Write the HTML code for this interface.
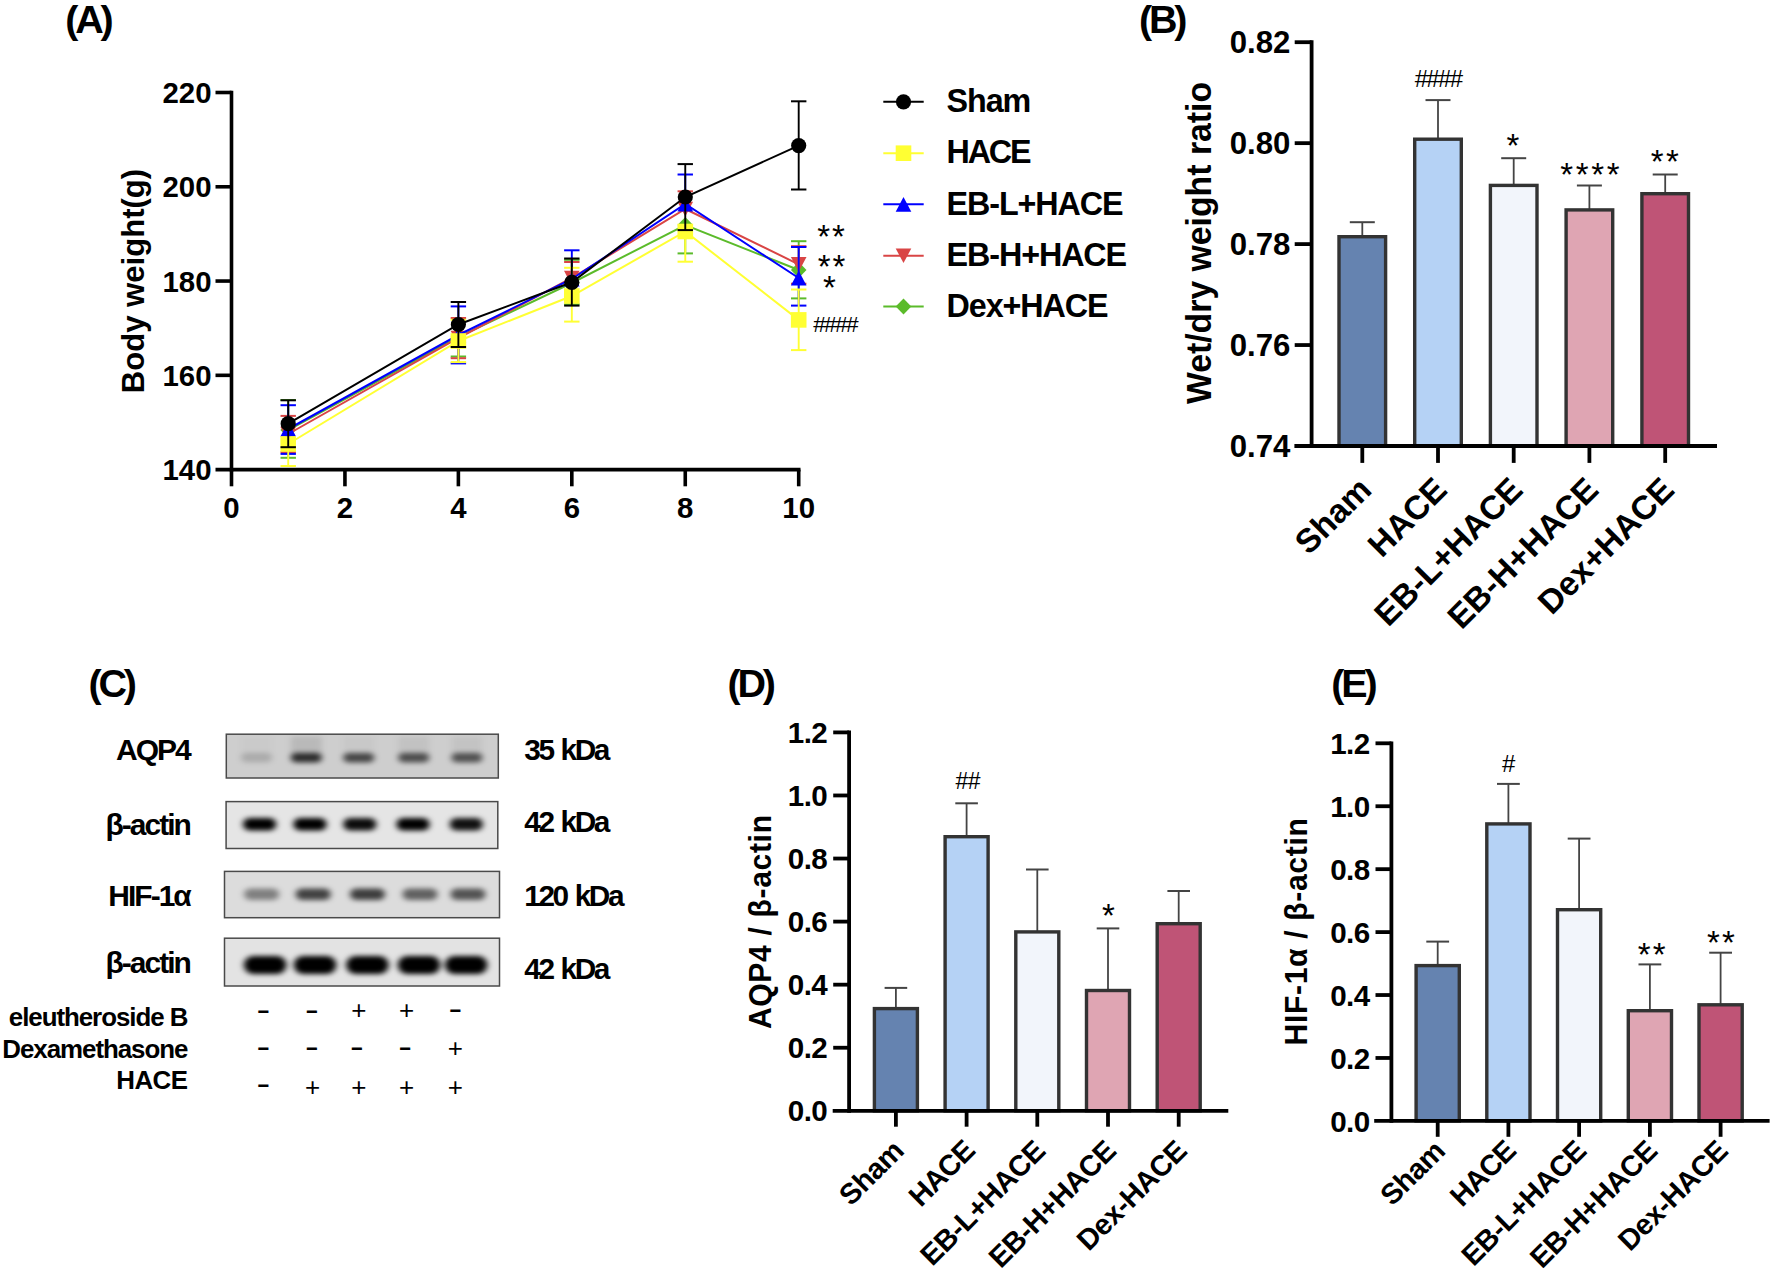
<!DOCTYPE html>
<html lang="en"><head><meta charset="utf-8"><title>Figure</title>
<style>html,body{margin:0;padding:0;background:#fff;}body{width:1772px;height:1273px;overflow:hidden;}svg{display:block;font-family:'Liberation Sans', Arial, sans-serif;}</style></head><body>
<svg width="1772" height="1273" viewBox="0 0 1772 1273">
<defs>
<filter id="bl0" x="-10%" y="-100%" width="120%" height="300%"><feGaussianBlur stdDeviation="3.4 2.72"/></filter>
<clipPath id="cp0"><rect x="226.3" y="734.2" width="272.0" height="43.8"/></clipPath>
<filter id="bl1" x="-10%" y="-100%" width="120%" height="300%"><feGaussianBlur stdDeviation="3.0 2.4000000000000004"/></filter>
<clipPath id="cp1"><rect x="226.1" y="801.6" width="271.7" height="46.9"/></clipPath>
<filter id="bl2" x="-10%" y="-100%" width="120%" height="300%"><feGaussianBlur stdDeviation="3.2 2.5600000000000005"/></filter>
<clipPath id="cp2"><rect x="224.5" y="871.4" width="275.0" height="46.3"/></clipPath>
<filter id="bl3" x="-10%" y="-100%" width="120%" height="300%"><feGaussianBlur stdDeviation="3.0 2.4000000000000004"/></filter>
<clipPath id="cp3"><rect x="224.5" y="938.2" width="275" height="47.8"/></clipPath>
</defs>
<rect width="1772" height="1273" fill="#fff"/>
<g id="panelA">
<line x1="231.5" y1="90.7" x2="231.5" y2="471.40000000000003" stroke="#000" stroke-width="3.6" stroke-linecap="butt"/>
<line x1="215.5" y1="469.6" x2="800.5" y2="469.6" stroke="#000" stroke-width="3.6" stroke-linecap="butt"/>
<text transform="translate(211.5 480.20000000000005) scale(0.99 1)" font-size="29.7" font-weight="bold" text-anchor="end" fill="#000">140</text>
<line x1="215.5" y1="375.32500000000005" x2="231.5" y2="375.32500000000005" stroke="#000" stroke-width="3.6" stroke-linecap="butt"/>
<text transform="translate(211.5 385.92500000000007) scale(0.99 1)" font-size="29.7" font-weight="bold" text-anchor="end" fill="#000">160</text>
<line x1="215.5" y1="281.05" x2="231.5" y2="281.05" stroke="#000" stroke-width="3.6" stroke-linecap="butt"/>
<text transform="translate(211.5 291.65000000000003) scale(0.99 1)" font-size="29.7" font-weight="bold" text-anchor="end" fill="#000">180</text>
<line x1="215.5" y1="186.77500000000003" x2="231.5" y2="186.77500000000003" stroke="#000" stroke-width="3.6" stroke-linecap="butt"/>
<text transform="translate(211.5 197.37500000000003) scale(0.99 1)" font-size="29.7" font-weight="bold" text-anchor="end" fill="#000">200</text>
<line x1="215.5" y1="92.5" x2="231.5" y2="92.5" stroke="#000" stroke-width="3.6" stroke-linecap="butt"/>
<text transform="translate(211.5 103.1) scale(0.99 1)" font-size="29.7" font-weight="bold" text-anchor="end" fill="#000">220</text>
<line x1="231.5" y1="469.6" x2="231.5" y2="486.3" stroke="#000" stroke-width="3.6" stroke-linecap="butt"/>
<text transform="translate(231.5 518.1) scale(0.99 1)" font-size="29.7" font-weight="bold" text-anchor="middle" fill="#000">0</text>
<line x1="344.94" y1="469.6" x2="344.94" y2="486.3" stroke="#000" stroke-width="3.6" stroke-linecap="butt"/>
<text transform="translate(344.94 518.1) scale(0.99 1)" font-size="29.7" font-weight="bold" text-anchor="middle" fill="#000">2</text>
<line x1="458.38" y1="469.6" x2="458.38" y2="486.3" stroke="#000" stroke-width="3.6" stroke-linecap="butt"/>
<text transform="translate(458.38 518.1) scale(0.99 1)" font-size="29.7" font-weight="bold" text-anchor="middle" fill="#000">4</text>
<line x1="571.8199999999999" y1="469.6" x2="571.8199999999999" y2="486.3" stroke="#000" stroke-width="3.6" stroke-linecap="butt"/>
<text transform="translate(571.8199999999999 518.1) scale(0.99 1)" font-size="29.7" font-weight="bold" text-anchor="middle" fill="#000">6</text>
<line x1="685.26" y1="469.6" x2="685.26" y2="486.3" stroke="#000" stroke-width="3.6" stroke-linecap="butt"/>
<text transform="translate(685.26 518.1) scale(0.99 1)" font-size="29.7" font-weight="bold" text-anchor="middle" fill="#000">8</text>
<line x1="798.7" y1="469.6" x2="798.7" y2="486.3" stroke="#000" stroke-width="3.6" stroke-linecap="butt"/>
<text transform="translate(798.7 518.1) scale(0.99 1)" font-size="29.7" font-weight="bold" text-anchor="middle" fill="#000">10</text>
<text transform="translate(144 281) rotate(-90) scale(1.019 1)" font-size="30.5" font-weight="bold" text-anchor="middle" fill="#000">Body weight(g)</text>
<text transform="translate(65.2 33)" font-size="39.5" font-weight="bold" text-anchor="start" letter-spacing="-3.2" fill="#000">(A)</text>
<line x1="288.22" y1="430" x2="288.22" y2="400" stroke="#5BBB2A" stroke-width="1.9" stroke-linecap="butt"/>
<line x1="280.52000000000004" y1="400" x2="295.92" y2="400" stroke="#5BBB2A" stroke-width="2.0" stroke-linecap="butt"/>
<line x1="288.22" y1="430" x2="288.22" y2="457.8" stroke="#5BBB2A" stroke-width="1.9" stroke-linecap="butt"/>
<line x1="280.52000000000004" y1="457.8" x2="295.92" y2="457.8" stroke="#5BBB2A" stroke-width="2.0" stroke-linecap="butt"/>
<line x1="458.38" y1="337" x2="458.38" y2="356.5" stroke="#5BBB2A" stroke-width="1.9" stroke-linecap="butt"/>
<line x1="450.68" y1="356.5" x2="466.08" y2="356.5" stroke="#5BBB2A" stroke-width="2.0" stroke-linecap="butt"/>
<line x1="571.8199999999999" y1="283" x2="571.8199999999999" y2="259.8" stroke="#5BBB2A" stroke-width="1.9" stroke-linecap="butt"/>
<line x1="564.1199999999999" y1="259.8" x2="579.52" y2="259.8" stroke="#5BBB2A" stroke-width="2.0" stroke-linecap="butt"/>
<line x1="571.8199999999999" y1="283" x2="571.8199999999999" y2="304.3" stroke="#5BBB2A" stroke-width="1.9" stroke-linecap="butt"/>
<line x1="564.1199999999999" y1="304.3" x2="579.52" y2="304.3" stroke="#5BBB2A" stroke-width="2.0" stroke-linecap="butt"/>
<line x1="685.26" y1="225" x2="685.26" y2="253.4" stroke="#5BBB2A" stroke-width="1.9" stroke-linecap="butt"/>
<line x1="677.56" y1="253.4" x2="692.96" y2="253.4" stroke="#5BBB2A" stroke-width="2.0" stroke-linecap="butt"/>
<line x1="798.7" y1="270" x2="798.7" y2="241.2" stroke="#5BBB2A" stroke-width="1.9" stroke-linecap="butt"/>
<line x1="791.0" y1="241.2" x2="806.4000000000001" y2="241.2" stroke="#5BBB2A" stroke-width="2.0" stroke-linecap="butt"/>
<line x1="798.7" y1="270" x2="798.7" y2="298.4" stroke="#5BBB2A" stroke-width="1.9" stroke-linecap="butt"/>
<line x1="791.0" y1="298.4" x2="806.4000000000001" y2="298.4" stroke="#5BBB2A" stroke-width="2.0" stroke-linecap="butt"/>
<polyline points="288.2,430.0 458.4,337.0 571.8,283.0 685.3,225.0 798.7,270.0" fill="none" stroke="#5BBB2A" stroke-width="2.0"/>
<polygon points="288.2,422.0 296.0,430.0 288.2,438.0 280.4,430.0" fill="#5BBB2A"/>
<polygon points="458.4,329.0 466.2,337.0 458.4,345.0 450.6,337.0" fill="#5BBB2A"/>
<polygon points="571.8,275.0 579.6,283.0 571.8,291.0 564.0,283.0" fill="#5BBB2A"/>
<polygon points="685.3,217.0 693.1,225.0 685.3,233.0 677.5,225.0" fill="#5BBB2A"/>
<polygon points="798.7,262.0 806.5,270.0 798.7,278.0 790.9,270.0" fill="#5BBB2A"/>
<line x1="288.22" y1="434" x2="288.22" y2="415.9" stroke="#D94545" stroke-width="1.9" stroke-linecap="butt"/>
<line x1="280.52000000000004" y1="415.9" x2="295.92" y2="415.9" stroke="#D94545" stroke-width="2.0" stroke-linecap="butt"/>
<line x1="288.22" y1="434" x2="288.22" y2="452.2" stroke="#D94545" stroke-width="1.9" stroke-linecap="butt"/>
<line x1="280.52000000000004" y1="452.2" x2="295.92" y2="452.2" stroke="#D94545" stroke-width="2.0" stroke-linecap="butt"/>
<line x1="458.38" y1="338" x2="458.38" y2="318" stroke="#D94545" stroke-width="1.9" stroke-linecap="butt"/>
<line x1="450.68" y1="318" x2="466.08" y2="318" stroke="#D94545" stroke-width="2.0" stroke-linecap="butt"/>
<line x1="458.38" y1="338" x2="458.38" y2="358.2" stroke="#D94545" stroke-width="1.9" stroke-linecap="butt"/>
<line x1="450.68" y1="358.2" x2="466.08" y2="358.2" stroke="#D94545" stroke-width="2.0" stroke-linecap="butt"/>
<line x1="571.8199999999999" y1="278" x2="571.8199999999999" y2="262" stroke="#D94545" stroke-width="1.9" stroke-linecap="butt"/>
<line x1="564.1199999999999" y1="262" x2="579.52" y2="262" stroke="#D94545" stroke-width="2.0" stroke-linecap="butt"/>
<line x1="685.26" y1="209" x2="685.26" y2="191.3" stroke="#D94545" stroke-width="1.9" stroke-linecap="butt"/>
<line x1="677.56" y1="191.3" x2="692.96" y2="191.3" stroke="#D94545" stroke-width="2.0" stroke-linecap="butt"/>
<line x1="798.7" y1="264.3" x2="798.7" y2="246.2" stroke="#D94545" stroke-width="1.9" stroke-linecap="butt"/>
<line x1="791.0" y1="246.2" x2="806.4000000000001" y2="246.2" stroke="#D94545" stroke-width="2.0" stroke-linecap="butt"/>
<line x1="798.7" y1="264.3" x2="798.7" y2="283.7" stroke="#D94545" stroke-width="1.9" stroke-linecap="butt"/>
<line x1="791.0" y1="283.7" x2="806.4000000000001" y2="283.7" stroke="#D94545" stroke-width="2.0" stroke-linecap="butt"/>
<polyline points="288.2,434.0 458.4,338.0 571.8,278.0 685.3,209.0 798.7,264.3" fill="none" stroke="#D94545" stroke-width="2.0"/>
<polygon points="288.2,441.4 296.0,426.8 280.4,426.8" fill="#D94545"/>
<polygon points="458.4,345.4 466.2,330.8 450.6,330.8" fill="#D94545"/>
<polygon points="571.8,285.4 579.6,270.8 564.0,270.8" fill="#D94545"/>
<polygon points="685.3,216.4 693.1,201.8 677.5,201.8" fill="#D94545"/>
<polygon points="798.7,271.7 806.5,257.1 790.9,257.1" fill="#D94545"/>
<line x1="288.22" y1="429" x2="288.22" y2="405.2" stroke="#0000FF" stroke-width="1.9" stroke-linecap="butt"/>
<line x1="280.52000000000004" y1="405.2" x2="295.92" y2="405.2" stroke="#0000FF" stroke-width="2.0" stroke-linecap="butt"/>
<line x1="288.22" y1="429" x2="288.22" y2="453.9" stroke="#0000FF" stroke-width="1.9" stroke-linecap="butt"/>
<line x1="280.52000000000004" y1="453.9" x2="295.92" y2="453.9" stroke="#0000FF" stroke-width="2.0" stroke-linecap="butt"/>
<line x1="458.38" y1="335" x2="458.38" y2="306.4" stroke="#0000FF" stroke-width="1.9" stroke-linecap="butt"/>
<line x1="450.68" y1="306.4" x2="466.08" y2="306.4" stroke="#0000FF" stroke-width="2.0" stroke-linecap="butt"/>
<line x1="458.38" y1="335" x2="458.38" y2="363.4" stroke="#0000FF" stroke-width="1.9" stroke-linecap="butt"/>
<line x1="450.68" y1="363.4" x2="466.08" y2="363.4" stroke="#0000FF" stroke-width="2.0" stroke-linecap="butt"/>
<line x1="571.8199999999999" y1="279" x2="571.8199999999999" y2="250.3" stroke="#0000FF" stroke-width="1.9" stroke-linecap="butt"/>
<line x1="564.1199999999999" y1="250.3" x2="579.52" y2="250.3" stroke="#0000FF" stroke-width="2.0" stroke-linecap="butt"/>
<line x1="685.26" y1="204" x2="685.26" y2="174.5" stroke="#0000FF" stroke-width="1.9" stroke-linecap="butt"/>
<line x1="677.56" y1="174.5" x2="692.96" y2="174.5" stroke="#0000FF" stroke-width="2.0" stroke-linecap="butt"/>
<line x1="798.7" y1="278" x2="798.7" y2="247" stroke="#0000FF" stroke-width="1.9" stroke-linecap="butt"/>
<line x1="791.0" y1="247" x2="806.4000000000001" y2="247" stroke="#0000FF" stroke-width="2.0" stroke-linecap="butt"/>
<line x1="798.7" y1="278" x2="798.7" y2="305.6" stroke="#0000FF" stroke-width="1.9" stroke-linecap="butt"/>
<line x1="791.0" y1="305.6" x2="806.4000000000001" y2="305.6" stroke="#0000FF" stroke-width="2.0" stroke-linecap="butt"/>
<polyline points="288.2,429.0 458.4,335.0 571.8,279.0 685.3,204.0 798.7,278.0" fill="none" stroke="#0000FF" stroke-width="2.0"/>
<polygon points="288.2,421.7 296.0,436.4 280.4,436.4" fill="#0000FF"/>
<polygon points="458.4,327.7 466.2,342.4 450.6,342.4" fill="#0000FF"/>
<polygon points="571.8,271.7 579.6,286.4 564.0,286.4" fill="#0000FF"/>
<polygon points="685.3,196.7 693.1,211.4 677.5,211.4" fill="#0000FF"/>
<polygon points="798.7,270.7 806.5,285.4 790.9,285.4" fill="#0000FF"/>
<line x1="288.22" y1="444" x2="288.22" y2="466" stroke="#FFFF33" stroke-width="1.9" stroke-linecap="butt"/>
<line x1="280.52000000000004" y1="466" x2="295.92" y2="466" stroke="#FFFF33" stroke-width="2.0" stroke-linecap="butt"/>
<line x1="458.38" y1="341" x2="458.38" y2="319.8" stroke="#FFFF33" stroke-width="1.9" stroke-linecap="butt"/>
<line x1="450.68" y1="319.8" x2="466.08" y2="319.8" stroke="#FFFF33" stroke-width="2.0" stroke-linecap="butt"/>
<line x1="458.38" y1="341" x2="458.38" y2="362.1" stroke="#FFFF33" stroke-width="1.9" stroke-linecap="butt"/>
<line x1="450.68" y1="362.1" x2="466.08" y2="362.1" stroke="#FFFF33" stroke-width="2.0" stroke-linecap="butt"/>
<line x1="571.8199999999999" y1="296" x2="571.8199999999999" y2="267.8" stroke="#FFFF33" stroke-width="1.9" stroke-linecap="butt"/>
<line x1="564.1199999999999" y1="267.8" x2="579.52" y2="267.8" stroke="#FFFF33" stroke-width="2.0" stroke-linecap="butt"/>
<line x1="571.8199999999999" y1="296" x2="571.8199999999999" y2="321.6" stroke="#FFFF33" stroke-width="1.9" stroke-linecap="butt"/>
<line x1="564.1199999999999" y1="321.6" x2="579.52" y2="321.6" stroke="#FFFF33" stroke-width="2.0" stroke-linecap="butt"/>
<line x1="685.26" y1="231.5" x2="685.26" y2="261.7" stroke="#FFFF33" stroke-width="1.9" stroke-linecap="butt"/>
<line x1="677.56" y1="261.7" x2="692.96" y2="261.7" stroke="#FFFF33" stroke-width="2.0" stroke-linecap="butt"/>
<line x1="798.7" y1="319.9" x2="798.7" y2="289.5" stroke="#FFFF33" stroke-width="1.9" stroke-linecap="butt"/>
<line x1="791.0" y1="289.5" x2="806.4000000000001" y2="289.5" stroke="#FFFF33" stroke-width="2.0" stroke-linecap="butt"/>
<line x1="798.7" y1="319.9" x2="798.7" y2="350.1" stroke="#FFFF33" stroke-width="1.9" stroke-linecap="butt"/>
<line x1="791.0" y1="350.1" x2="806.4000000000001" y2="350.1" stroke="#FFFF33" stroke-width="2.0" stroke-linecap="butt"/>
<polyline points="288.2,444.0 458.4,341.0 571.8,296.0 685.3,231.5 798.7,319.9" fill="none" stroke="#FFFF33" stroke-width="2.0"/>
<rect x="280.4" y="436.2" width="15.6" height="15.6" fill="#FFFF33"/>
<rect x="450.6" y="333.2" width="15.6" height="15.6" fill="#FFFF33"/>
<rect x="564.0" y="288.2" width="15.6" height="15.6" fill="#FFFF33"/>
<rect x="677.5" y="223.7" width="15.6" height="15.6" fill="#FFFF33"/>
<rect x="790.9" y="312.1" width="15.6" height="15.6" fill="#FFFF33"/>
<line x1="288.22" y1="423.7" x2="288.22" y2="400.3" stroke="#000000" stroke-width="1.9" stroke-linecap="butt"/>
<line x1="280.52000000000004" y1="400.3" x2="295.92" y2="400.3" stroke="#000000" stroke-width="2.0" stroke-linecap="butt"/>
<line x1="288.22" y1="423.7" x2="288.22" y2="447.2" stroke="#000000" stroke-width="1.9" stroke-linecap="butt"/>
<line x1="280.52000000000004" y1="447.2" x2="295.92" y2="447.2" stroke="#000000" stroke-width="2.0" stroke-linecap="butt"/>
<line x1="458.38" y1="324.5" x2="458.38" y2="302" stroke="#000000" stroke-width="1.9" stroke-linecap="butt"/>
<line x1="450.68" y1="302" x2="466.08" y2="302" stroke="#000000" stroke-width="2.0" stroke-linecap="butt"/>
<line x1="458.38" y1="324.5" x2="458.38" y2="347" stroke="#000000" stroke-width="1.9" stroke-linecap="butt"/>
<line x1="450.68" y1="347" x2="466.08" y2="347" stroke="#000000" stroke-width="2.0" stroke-linecap="butt"/>
<line x1="571.8199999999999" y1="282.3" x2="571.8199999999999" y2="258.5" stroke="#000000" stroke-width="1.9" stroke-linecap="butt"/>
<line x1="564.1199999999999" y1="258.5" x2="579.52" y2="258.5" stroke="#000000" stroke-width="2.0" stroke-linecap="butt"/>
<line x1="571.8199999999999" y1="282.3" x2="571.8199999999999" y2="305.6" stroke="#000000" stroke-width="1.9" stroke-linecap="butt"/>
<line x1="564.1199999999999" y1="305.6" x2="579.52" y2="305.6" stroke="#000000" stroke-width="2.0" stroke-linecap="butt"/>
<line x1="685.26" y1="197" x2="685.26" y2="164.1" stroke="#000000" stroke-width="1.9" stroke-linecap="butt"/>
<line x1="677.56" y1="164.1" x2="692.96" y2="164.1" stroke="#000000" stroke-width="2.0" stroke-linecap="butt"/>
<line x1="685.26" y1="197" x2="685.26" y2="230.1" stroke="#000000" stroke-width="1.9" stroke-linecap="butt"/>
<line x1="677.56" y1="230.1" x2="692.96" y2="230.1" stroke="#000000" stroke-width="2.0" stroke-linecap="butt"/>
<line x1="798.7" y1="145.6" x2="798.7" y2="101.3" stroke="#000000" stroke-width="1.9" stroke-linecap="butt"/>
<line x1="791.0" y1="101.3" x2="806.4000000000001" y2="101.3" stroke="#000000" stroke-width="2.0" stroke-linecap="butt"/>
<line x1="798.7" y1="145.6" x2="798.7" y2="189.5" stroke="#000000" stroke-width="1.9" stroke-linecap="butt"/>
<line x1="791.0" y1="189.5" x2="806.4000000000001" y2="189.5" stroke="#000000" stroke-width="2.0" stroke-linecap="butt"/>
<polyline points="288.2,423.7 458.4,324.5 571.8,282.3 685.3,197.0 798.7,145.6" fill="none" stroke="#000000" stroke-width="2.0"/>
<circle cx="288.2" cy="423.7" r="7.6" fill="#000000"/>
<circle cx="458.4" cy="324.5" r="7.6" fill="#000000"/>
<circle cx="571.8" cy="282.3" r="7.6" fill="#000000"/>
<circle cx="685.3" cy="197.0" r="7.6" fill="#000000"/>
<circle cx="798.7" cy="145.6" r="7.6" fill="#000000"/>
<line x1="883.3" y1="101.8" x2="923.7" y2="101.8" stroke="#000000" stroke-width="2" stroke-linecap="butt"/>
<circle cx="903.5" cy="101.8" r="7.6" fill="#000000"/>
<text transform="translate(946.6 112.4)" font-size="32.3" font-weight="bold" text-anchor="start" letter-spacing="-1.1" fill="#000">Sham</text>
<line x1="883.3" y1="153.2" x2="923.7" y2="153.2" stroke="#FFFF33" stroke-width="2" stroke-linecap="butt"/>
<rect x="895.7" y="145.4" width="15.6" height="15.6" fill="#FFFF33"/>
<text transform="translate(946.6 163.4)" font-size="32.3" font-weight="bold" text-anchor="start" letter-spacing="-2.2" fill="#000">HACE</text>
<line x1="883.3" y1="204.3" x2="923.7" y2="204.3" stroke="#0000FF" stroke-width="2" stroke-linecap="butt"/>
<polygon points="903.5,197.0 911.3,211.7 895.7,211.7" fill="#0000FF"/>
<text transform="translate(946.6 214.7)" font-size="32.3" font-weight="bold" text-anchor="start" letter-spacing="-1.1" fill="#000">EB-L+HACE</text>
<line x1="883.3" y1="255.7" x2="923.7" y2="255.7" stroke="#D94545" stroke-width="2" stroke-linecap="butt"/>
<polygon points="903.5,263.1 911.3,248.5 895.7,248.5" fill="#D94545"/>
<text transform="translate(946.6 265.6)" font-size="32.3" font-weight="bold" text-anchor="start" letter-spacing="-1.1" fill="#000">EB-H+HACE</text>
<line x1="883.3" y1="306.6" x2="923.7" y2="306.6" stroke="#5BBB2A" stroke-width="2" stroke-linecap="butt"/>
<polygon points="903.5,298.6 911.3,306.6 903.5,314.6 895.7,306.6" fill="#5BBB2A"/>
<text transform="translate(946.6 317.2)" font-size="32.3" font-weight="bold" text-anchor="start" letter-spacing="-1.1" fill="#000">Dex+HACE</text>
<text transform="translate(832 248)" font-size="33" font-weight="normal" text-anchor="middle" letter-spacing="2" fill="#000">**</text>
<text transform="translate(832.5 277.5)" font-size="33" font-weight="normal" text-anchor="middle" letter-spacing="2" fill="#000">**</text>
<text transform="translate(829.3 299.3)" font-size="33" font-weight="normal" text-anchor="middle" fill="#000">*</text>
<text transform="translate(813.2 331.6)" font-size="22.7" font-weight="normal" text-anchor="start" letter-spacing="-1.7" fill="#000">####</text>
</g>
<g id="panelB">
<line x1="1362.3" y1="236" x2="1362.3" y2="222.2" stroke="#444" stroke-width="1.8" stroke-linecap="butt"/>
<line x1="1349.8" y1="222.2" x2="1374.8" y2="222.2" stroke="#444" stroke-width="2.0" stroke-linecap="butt"/>
<rect x="1339.0" y="236.7" width="46.6" height="209.3" fill="#6583B0" stroke="#333333" stroke-width="3.4"/>
<line x1="1438.0" y1="138.5" x2="1438.0" y2="100.1" stroke="#444" stroke-width="1.8" stroke-linecap="butt"/>
<line x1="1425.5" y1="100.1" x2="1450.5" y2="100.1" stroke="#444" stroke-width="2.0" stroke-linecap="butt"/>
<rect x="1414.7" y="139.2" width="46.6" height="306.8" fill="#B5D2F5" stroke="#333333" stroke-width="3.4"/>
<line x1="1513.7" y1="184.7" x2="1513.7" y2="158.2" stroke="#444" stroke-width="1.8" stroke-linecap="butt"/>
<line x1="1501.2" y1="158.2" x2="1526.2" y2="158.2" stroke="#444" stroke-width="2.0" stroke-linecap="butt"/>
<rect x="1490.4" y="185.4" width="46.6" height="260.6" fill="#F2F5FB" stroke="#333333" stroke-width="3.4"/>
<line x1="1589.4" y1="209.2" x2="1589.4" y2="185.5" stroke="#444" stroke-width="1.8" stroke-linecap="butt"/>
<line x1="1576.9" y1="185.5" x2="1601.9" y2="185.5" stroke="#444" stroke-width="2.0" stroke-linecap="butt"/>
<rect x="1566.1" y="209.9" width="46.6" height="236.1" fill="#DFA5B3" stroke="#333333" stroke-width="3.4"/>
<line x1="1665.2" y1="193" x2="1665.2" y2="174.5" stroke="#444" stroke-width="1.8" stroke-linecap="butt"/>
<line x1="1652.7" y1="174.5" x2="1677.7" y2="174.5" stroke="#444" stroke-width="2.0" stroke-linecap="butt"/>
<rect x="1641.9" y="193.7" width="46.6" height="252.3" fill="#BF5476" stroke="#333333" stroke-width="3.4"/>
<line x1="1311.6" y1="40.300000000000004" x2="1311.6" y2="447.9" stroke="#000" stroke-width="3.8" stroke-linecap="butt"/>
<line x1="1294.4" y1="446.0" x2="1717" y2="446.0" stroke="#000" stroke-width="3.8" stroke-linecap="butt"/>
<text transform="translate(1290.3999999999999 457.0) scale(0.98 1)" font-size="31.8" font-weight="bold" text-anchor="end" fill="#000">0.74</text>
<line x1="1294.6999999999998" y1="345.05" x2="1311.6" y2="345.05" stroke="#000" stroke-width="3.8" stroke-linecap="butt"/>
<text transform="translate(1290.3999999999999 356.05) scale(0.98 1)" font-size="31.8" font-weight="bold" text-anchor="end" fill="#000">0.76</text>
<line x1="1294.6999999999998" y1="244.1" x2="1311.6" y2="244.1" stroke="#000" stroke-width="3.8" stroke-linecap="butt"/>
<text transform="translate(1290.3999999999999 255.1) scale(0.98 1)" font-size="31.8" font-weight="bold" text-anchor="end" fill="#000">0.78</text>
<line x1="1294.6999999999998" y1="143.14999999999998" x2="1311.6" y2="143.14999999999998" stroke="#000" stroke-width="3.8" stroke-linecap="butt"/>
<text transform="translate(1290.3999999999999 154.14999999999998) scale(0.98 1)" font-size="31.8" font-weight="bold" text-anchor="end" fill="#000">0.80</text>
<line x1="1294.6999999999998" y1="42.19999999999999" x2="1311.6" y2="42.19999999999999" stroke="#000" stroke-width="3.8" stroke-linecap="butt"/>
<text transform="translate(1290.3999999999999 53.19999999999999) scale(0.98 1)" font-size="31.8" font-weight="bold" text-anchor="end" fill="#000">0.82</text>
<line x1="1362.3" y1="446.0" x2="1362.3" y2="462.9" stroke="#000" stroke-width="3.8" stroke-linecap="butt"/>
<line x1="1438.0" y1="446.0" x2="1438.0" y2="462.9" stroke="#000" stroke-width="3.8" stroke-linecap="butt"/>
<line x1="1513.7" y1="446.0" x2="1513.7" y2="462.9" stroke="#000" stroke-width="3.8" stroke-linecap="butt"/>
<line x1="1589.4" y1="446.0" x2="1589.4" y2="462.9" stroke="#000" stroke-width="3.8" stroke-linecap="butt"/>
<line x1="1665.2" y1="446.0" x2="1665.2" y2="462.9" stroke="#000" stroke-width="3.8" stroke-linecap="butt"/>
<text transform="translate(1373.2 491.6) rotate(-45)" font-size="33.5" font-weight="bold" text-anchor="end" fill="#000">Sham</text>
<text transform="translate(1448.9 491.6) rotate(-45)" font-size="33.5" font-weight="bold" text-anchor="end" fill="#000">HACE</text>
<text transform="translate(1524.6000000000001 491.6) rotate(-45)" font-size="33.5" font-weight="bold" text-anchor="end" fill="#000">EB-L+HACE</text>
<text transform="translate(1600.3000000000002 491.6) rotate(-45)" font-size="33.5" font-weight="bold" text-anchor="end" fill="#000">EB-H+HACE</text>
<text transform="translate(1676.1000000000001 491.6) rotate(-45)" font-size="33.5" font-weight="bold" text-anchor="end" fill="#000">Dex+HACE</text>
<text transform="translate(1211 243) rotate(-90) scale(0.985 1)" font-size="34.3" font-weight="bold" text-anchor="middle" fill="#000">Wet/dry weight ratio</text>
<text transform="translate(1139 33)" font-size="39.5" font-weight="bold" text-anchor="start" letter-spacing="-3.2" fill="#000">(B)</text>
<text transform="translate(1438.0 87.3)" font-size="24" font-weight="normal" text-anchor="middle" letter-spacing="-1.7" fill="#000">####</text>
<text transform="translate(1513 156.5)" font-size="33" font-weight="normal" text-anchor="middle" fill="#000">*</text>
<text transform="translate(1591.3 185.5)" font-size="33" font-weight="normal" text-anchor="middle" letter-spacing="2.7" fill="#000">****</text>
<text transform="translate(1666 173)" font-size="33" font-weight="normal" text-anchor="middle" letter-spacing="2.4" fill="#000">**</text>
</g>
<g id="panelC">
<text transform="translate(88.5 696.5)" font-size="39.5" font-weight="bold" text-anchor="start" letter-spacing="-3.2" fill="#000">(C)</text>
<rect x="226.3" y="734.2" width="272.0" height="43.8" fill="#CECECE"/>
<g clip-path="url(#cp0)"><g filter="url(#bl0)">
<rect x="241.0" y="736.2" width="31" height="21.6" fill="#000" fill-opacity="0.02"/>
<rect x="290.8" y="736.2" width="31" height="21.6" fill="#000" fill-opacity="0.1"/>
<rect x="343.2" y="736.2" width="31" height="21.6" fill="#000" fill-opacity="0.03"/>
<rect x="398.2" y="736.2" width="31" height="21.6" fill="#000" fill-opacity="0.06"/>
<rect x="451.4" y="736.2" width="31" height="21.6" fill="#000" fill-opacity="0.05"/>
<rect x="241.0" y="753.0" width="31" height="9.5" rx="4.75" fill="#000" fill-opacity="0.16"/>
<rect x="290.8" y="753.0" width="31" height="9.5" rx="4.75" fill="#000" fill-opacity="0.78"/>
<rect x="343.2" y="753.0" width="31" height="9.5" rx="4.75" fill="#000" fill-opacity="0.66"/>
<rect x="398.2" y="753.0" width="31" height="9.5" rx="4.75" fill="#000" fill-opacity="0.62"/>
<rect x="451.4" y="753.0" width="31" height="9.5" rx="4.75" fill="#000" fill-opacity="0.6"/>
</g></g>
<rect x="226.3" y="734.2" width="272.0" height="43.8" fill="none" stroke="#4a4a4a" stroke-width="1.5"/>
<rect x="226.1" y="801.6" width="271.7" height="46.9" fill="#E5E5E5"/>
<g clip-path="url(#cp1)"><g filter="url(#bl1)">
<rect x="243.1" y="818.0" width="33" height="12.5" rx="6.25" fill="#000" fill-opacity="1"/>
<rect x="293.5" y="818.0" width="33" height="12.5" rx="6.25" fill="#000" fill-opacity="1"/>
<rect x="343.3" y="818.0" width="33" height="12.5" rx="6.25" fill="#000" fill-opacity="0.95"/>
<rect x="396.5" y="818.0" width="33" height="12.5" rx="6.25" fill="#000" fill-opacity="1"/>
<rect x="449.8" y="818.0" width="33" height="12.5" rx="6.25" fill="#000" fill-opacity="0.93"/>
</g></g>
<rect x="226.1" y="801.6" width="271.7" height="46.9" fill="none" stroke="#4a4a4a" stroke-width="1.5"/>
<rect x="224.5" y="871.4" width="275.0" height="46.3" fill="#DCDCDC"/>
<g clip-path="url(#cp2)"><g filter="url(#bl2)">
<rect x="244.1" y="888.5" width="35" height="11.5" rx="5.75" fill="#000" fill-opacity="0.42"/>
<rect x="295.7" y="888.5" width="35" height="11.5" rx="5.75" fill="#000" fill-opacity="0.7"/>
<rect x="350.0" y="888.5" width="35" height="11.5" rx="5.75" fill="#000" fill-opacity="0.72"/>
<rect x="402.5" y="888.5" width="35" height="11.5" rx="5.75" fill="#000" fill-opacity="0.56"/>
<rect x="450.5" y="888.5" width="35" height="11.5" rx="5.75" fill="#000" fill-opacity="0.62"/>
</g></g>
<rect x="224.5" y="871.4" width="275.0" height="46.3" fill="none" stroke="#4a4a4a" stroke-width="1.5"/>
<rect x="224.5" y="938.2" width="275" height="47.8" fill="#E3E3E3"/>
<g clip-path="url(#cp3)"><g filter="url(#bl3)">
<rect x="243.9" y="956.0" width="42.5" height="18" rx="9.0" fill="#000" fill-opacity="1"/>
<rect x="293.8" y="956.0" width="42.5" height="18" rx="9.0" fill="#000" fill-opacity="1"/>
<rect x="346.2" y="956.0" width="42.5" height="18" rx="9.0" fill="#000" fill-opacity="1"/>
<rect x="397.8" y="956.0" width="42.5" height="18" rx="9.0" fill="#000" fill-opacity="1"/>
<rect x="444.9" y="956.0" width="42.5" height="18" rx="9.0" fill="#000" fill-opacity="1"/>
</g></g>
<rect x="224.5" y="938.2" width="275" height="47.8" fill="none" stroke="#4a4a4a" stroke-width="1.5"/>
<text transform="translate(189.8 760.1)" font-size="30" font-weight="bold" text-anchor="end" letter-spacing="-2.0" fill="#000">AQP4</text>
<text transform="translate(189.8 834.9)" font-size="30" font-weight="bold" text-anchor="end" letter-spacing="-2.0" fill="#000">β-actin</text>
<text transform="translate(189.8 906.2)" font-size="30" font-weight="bold" text-anchor="end" letter-spacing="-2.0" fill="#000">HIF-1α</text>
<text transform="translate(189.8 973)" font-size="30" font-weight="bold" text-anchor="end" letter-spacing="-2.0" fill="#000">β-actin</text>
<text transform="translate(524.3 759.6)" font-size="29.8" font-weight="bold" text-anchor="start" letter-spacing="-2.45" fill="#000" word-spacing="2.2">35 kDa</text>
<text transform="translate(524.3 832.2)" font-size="29.8" font-weight="bold" text-anchor="start" letter-spacing="-2.45" fill="#000" word-spacing="2.2">42 kDa</text>
<text transform="translate(524.3 905.9)" font-size="29.8" font-weight="bold" text-anchor="start" letter-spacing="-2.45" fill="#000" word-spacing="2.2">120 kDa</text>
<text transform="translate(524.3 978.5)" font-size="29.8" font-weight="bold" text-anchor="start" letter-spacing="-2.45" fill="#000" word-spacing="2.2">42 kDa</text>
<text transform="translate(187.3 1026.3)" font-size="25.9" font-weight="bold" text-anchor="end" letter-spacing="-1.05" fill="#000">eleutheroside B</text>
<text transform="translate(263.5 1016.8) scale(1.9 1)" font-size="21" font-weight="bold" text-anchor="middle" fill="#000">-</text>
<text transform="translate(311.9 1016.8) scale(1.9 1)" font-size="21" font-weight="bold" text-anchor="middle" fill="#000">-</text>
<text transform="translate(358.9 1019.4)" font-size="26" font-weight="normal" text-anchor="middle" fill="#000">+</text>
<text transform="translate(406.6 1019.4)" font-size="26" font-weight="normal" text-anchor="middle" fill="#000">+</text>
<text transform="translate(455.4 1015.5999999999999) scale(1.9 1)" font-size="21" font-weight="bold" text-anchor="middle" fill="#000">-</text>
<text transform="translate(187.3 1057.7)" font-size="25.9" font-weight="bold" text-anchor="end" letter-spacing="-1.05" fill="#000">Dexamethasone</text>
<text transform="translate(263.5 1054.1) scale(1.9 1)" font-size="21" font-weight="bold" text-anchor="middle" fill="#000">-</text>
<text transform="translate(311.9 1054.1) scale(1.9 1)" font-size="21" font-weight="bold" text-anchor="middle" fill="#000">-</text>
<text transform="translate(357.0 1054.1) scale(1.9 1)" font-size="21" font-weight="bold" text-anchor="middle" fill="#000">-</text>
<text transform="translate(405.1 1054.1) scale(1.9 1)" font-size="21" font-weight="bold" text-anchor="middle" fill="#000">-</text>
<text transform="translate(455.4 1057.3000000000002)" font-size="26" font-weight="normal" text-anchor="middle" fill="#000">+</text>
<text transform="translate(187.6 1089.3)" font-size="25.9" font-weight="bold" text-anchor="end" letter-spacing="-0.5" fill="#000">HACE</text>
<text transform="translate(263.5 1091.3) scale(1.9 1)" font-size="21" font-weight="bold" text-anchor="middle" fill="#000">-</text>
<text transform="translate(312.5 1095.5)" font-size="26" font-weight="normal" text-anchor="middle" fill="#000">+</text>
<text transform="translate(358.9 1095.5)" font-size="26" font-weight="normal" text-anchor="middle" fill="#000">+</text>
<text transform="translate(406.6 1095.5)" font-size="26" font-weight="normal" text-anchor="middle" fill="#000">+</text>
<text transform="translate(455.4 1095.5)" font-size="26" font-weight="normal" text-anchor="middle" fill="#000">+</text>
</g>
<g id="panelD">
<line x1="895.9" y1="1007.9" x2="895.9" y2="987.9" stroke="#444" stroke-width="1.8" stroke-linecap="butt"/>
<line x1="884.6" y1="987.9" x2="907.1999999999999" y2="987.9" stroke="#444" stroke-width="2.0" stroke-linecap="butt"/>
<rect x="874.4" y="1008.6" width="43.0" height="102.2" fill="#6583B0" stroke="#333333" stroke-width="3.4"/>
<line x1="966.6" y1="836" x2="966.6" y2="803.3" stroke="#444" stroke-width="1.8" stroke-linecap="butt"/>
<line x1="955.3000000000001" y1="803.3" x2="977.9" y2="803.3" stroke="#444" stroke-width="2.0" stroke-linecap="butt"/>
<rect x="945.1" y="836.7" width="43.0" height="274.1" fill="#B5D2F5" stroke="#333333" stroke-width="3.4"/>
<line x1="1037.3" y1="931.2" x2="1037.3" y2="869.5" stroke="#444" stroke-width="1.8" stroke-linecap="butt"/>
<line x1="1026.0" y1="869.5" x2="1048.6" y2="869.5" stroke="#444" stroke-width="2.0" stroke-linecap="butt"/>
<rect x="1015.8" y="931.9" width="43.0" height="178.9" fill="#F2F5FB" stroke="#333333" stroke-width="3.4"/>
<line x1="1108.0" y1="989.8" x2="1108.0" y2="928.4" stroke="#444" stroke-width="1.8" stroke-linecap="butt"/>
<line x1="1096.7" y1="928.4" x2="1119.3" y2="928.4" stroke="#444" stroke-width="2.0" stroke-linecap="butt"/>
<rect x="1086.5" y="990.5" width="43.0" height="120.3" fill="#DFA5B3" stroke="#333333" stroke-width="3.4"/>
<line x1="1178.7" y1="923" x2="1178.7" y2="891" stroke="#444" stroke-width="1.8" stroke-linecap="butt"/>
<line x1="1167.4" y1="891" x2="1190.0" y2="891" stroke="#444" stroke-width="2.0" stroke-linecap="butt"/>
<rect x="1157.2" y="923.7" width="43.0" height="187.1" fill="#BF5476" stroke="#333333" stroke-width="3.4"/>
<line x1="849.1" y1="730.5" x2="849.1" y2="1112.7" stroke="#000" stroke-width="3.8" stroke-linecap="butt"/>
<line x1="832.7" y1="1110.8" x2="1228.3" y2="1110.8" stroke="#000" stroke-width="3.8" stroke-linecap="butt"/>
<text transform="translate(827.2 1121.3999999999999)" font-size="29.6" font-weight="bold" text-anchor="end" letter-spacing="-0.6" fill="#000">0.0</text>
<line x1="833.2" y1="1047.7333333333333" x2="849.1" y2="1047.7333333333333" stroke="#000" stroke-width="3.8" stroke-linecap="butt"/>
<text transform="translate(827.2 1058.3333333333333)" font-size="29.6" font-weight="bold" text-anchor="end" letter-spacing="-0.6" fill="#000">0.2</text>
<line x1="833.2" y1="984.6666666666666" x2="849.1" y2="984.6666666666666" stroke="#000" stroke-width="3.8" stroke-linecap="butt"/>
<text transform="translate(827.2 995.2666666666667)" font-size="29.6" font-weight="bold" text-anchor="end" letter-spacing="-0.6" fill="#000">0.4</text>
<line x1="833.2" y1="921.6" x2="849.1" y2="921.6" stroke="#000" stroke-width="3.8" stroke-linecap="butt"/>
<text transform="translate(827.2 932.2)" font-size="29.6" font-weight="bold" text-anchor="end" letter-spacing="-0.6" fill="#000">0.6</text>
<line x1="833.2" y1="858.5333333333333" x2="849.1" y2="858.5333333333333" stroke="#000" stroke-width="3.8" stroke-linecap="butt"/>
<text transform="translate(827.2 869.1333333333333)" font-size="29.6" font-weight="bold" text-anchor="end" letter-spacing="-0.6" fill="#000">0.8</text>
<line x1="833.2" y1="795.4666666666667" x2="849.1" y2="795.4666666666667" stroke="#000" stroke-width="3.8" stroke-linecap="butt"/>
<text transform="translate(827.2 806.0666666666667)" font-size="29.6" font-weight="bold" text-anchor="end" letter-spacing="-0.6" fill="#000">1.0</text>
<line x1="833.2" y1="732.4000000000001" x2="849.1" y2="732.4000000000001" stroke="#000" stroke-width="3.8" stroke-linecap="butt"/>
<text transform="translate(827.2 743.0000000000001)" font-size="29.6" font-weight="bold" text-anchor="end" letter-spacing="-0.6" fill="#000">1.2</text>
<line x1="895.9" y1="1110.8" x2="895.9" y2="1126.7" stroke="#000" stroke-width="3.8" stroke-linecap="butt"/>
<line x1="966.6" y1="1110.8" x2="966.6" y2="1126.7" stroke="#000" stroke-width="3.8" stroke-linecap="butt"/>
<line x1="1037.3" y1="1110.8" x2="1037.3" y2="1126.7" stroke="#000" stroke-width="3.8" stroke-linecap="butt"/>
<line x1="1108.0" y1="1110.8" x2="1108.0" y2="1126.7" stroke="#000" stroke-width="3.8" stroke-linecap="butt"/>
<line x1="1178.7" y1="1110.8" x2="1178.7" y2="1126.7" stroke="#000" stroke-width="3.8" stroke-linecap="butt"/>
<text transform="translate(905.4 1152.6) rotate(-45)" font-size="29.0" font-weight="bold" text-anchor="end" letter-spacing="-0.55" fill="#000">Sham</text>
<text transform="translate(976.1 1152.6) rotate(-45)" font-size="29.0" font-weight="bold" text-anchor="end" letter-spacing="-1.0" fill="#000">HACE</text>
<text transform="translate(1046.8 1152.6) rotate(-45)" font-size="29.0" font-weight="bold" text-anchor="end" letter-spacing="-0.55" fill="#000">EB-L+HACE</text>
<text transform="translate(1117.5 1152.6) rotate(-45)" font-size="29.0" font-weight="bold" text-anchor="end" letter-spacing="-0.55" fill="#000">EB-H+HACE</text>
<text transform="translate(1188.2 1152.6) rotate(-45)" font-size="29.0" font-weight="bold" text-anchor="end" letter-spacing="-0.55" fill="#000">Dex-HACE</text>
<text transform="translate(770.6 921.7) rotate(-90) scale(0.94 1)" font-size="32" font-weight="bold" text-anchor="middle" letter-spacing="0.7" fill="#000">AQP4 / β-actin</text>
<text transform="translate(727.5 696.5)" font-size="39.5" font-weight="bold" text-anchor="start" letter-spacing="-3.2" fill="#000">(D)</text>
<text transform="translate(967.7 788.8)" font-size="23" font-weight="normal" text-anchor="middle" letter-spacing="-0.5" fill="#000">##</text>
<text transform="translate(1108.5 927)" font-size="33" font-weight="normal" text-anchor="middle" fill="#000">*</text>
</g>
<g id="panelE">
<line x1="1437.7" y1="964.9" x2="1437.7" y2="941.6" stroke="#444" stroke-width="1.8" stroke-linecap="butt"/>
<line x1="1426.3" y1="941.6" x2="1449.1000000000001" y2="941.6" stroke="#444" stroke-width="2.0" stroke-linecap="butt"/>
<rect x="1416.1" y="965.6" width="43.2" height="155.3" fill="#6583B0" stroke="#333333" stroke-width="3.4"/>
<line x1="1508.4" y1="823.2" x2="1508.4" y2="783.9" stroke="#444" stroke-width="1.8" stroke-linecap="butt"/>
<line x1="1497.0" y1="783.9" x2="1519.8000000000002" y2="783.9" stroke="#444" stroke-width="2.0" stroke-linecap="butt"/>
<rect x="1486.8" y="823.9" width="43.2" height="297.0" fill="#B5D2F5" stroke="#333333" stroke-width="3.4"/>
<line x1="1579.1" y1="909" x2="1579.1" y2="838.6" stroke="#444" stroke-width="1.8" stroke-linecap="butt"/>
<line x1="1567.6999999999998" y1="838.6" x2="1590.5" y2="838.6" stroke="#444" stroke-width="2.0" stroke-linecap="butt"/>
<rect x="1557.5" y="909.7" width="43.2" height="211.2" fill="#F2F5FB" stroke="#333333" stroke-width="3.4"/>
<line x1="1649.9" y1="1010" x2="1649.9" y2="964.4" stroke="#444" stroke-width="1.8" stroke-linecap="butt"/>
<line x1="1638.5" y1="964.4" x2="1661.3000000000002" y2="964.4" stroke="#444" stroke-width="2.0" stroke-linecap="butt"/>
<rect x="1628.3" y="1010.7" width="43.2" height="110.2" fill="#DFA5B3" stroke="#333333" stroke-width="3.4"/>
<line x1="1720.6" y1="1004.1" x2="1720.6" y2="952.7" stroke="#444" stroke-width="1.8" stroke-linecap="butt"/>
<line x1="1709.1999999999998" y1="952.7" x2="1732.0" y2="952.7" stroke="#444" stroke-width="2.0" stroke-linecap="butt"/>
<rect x="1699.0" y="1004.8" width="43.2" height="116.1" fill="#BF5476" stroke="#333333" stroke-width="3.4"/>
<line x1="1391.4" y1="741.4" x2="1391.4" y2="1122.8000000000002" stroke="#000" stroke-width="3.8" stroke-linecap="butt"/>
<line x1="1374.2" y1="1120.9" x2="1769.6" y2="1120.9" stroke="#000" stroke-width="3.8" stroke-linecap="butt"/>
<text transform="translate(1369.5 1131.5)" font-size="29.6" font-weight="bold" text-anchor="end" letter-spacing="-0.6" fill="#000">0.0</text>
<line x1="1375.5" y1="1057.9666666666667" x2="1391.4" y2="1057.9666666666667" stroke="#000" stroke-width="3.8" stroke-linecap="butt"/>
<text transform="translate(1369.5 1068.5666666666666)" font-size="29.6" font-weight="bold" text-anchor="end" letter-spacing="-0.6" fill="#000">0.2</text>
<line x1="1375.5" y1="995.0333333333334" x2="1391.4" y2="995.0333333333334" stroke="#000" stroke-width="3.8" stroke-linecap="butt"/>
<text transform="translate(1369.5 1005.6333333333334)" font-size="29.6" font-weight="bold" text-anchor="end" letter-spacing="-0.6" fill="#000">0.4</text>
<line x1="1375.5" y1="932.1" x2="1391.4" y2="932.1" stroke="#000" stroke-width="3.8" stroke-linecap="butt"/>
<text transform="translate(1369.5 942.7)" font-size="29.6" font-weight="bold" text-anchor="end" letter-spacing="-0.6" fill="#000">0.6</text>
<line x1="1375.5" y1="869.1666666666666" x2="1391.4" y2="869.1666666666666" stroke="#000" stroke-width="3.8" stroke-linecap="butt"/>
<text transform="translate(1369.5 879.7666666666667)" font-size="29.6" font-weight="bold" text-anchor="end" letter-spacing="-0.6" fill="#000">0.8</text>
<line x1="1375.5" y1="806.2333333333333" x2="1391.4" y2="806.2333333333333" stroke="#000" stroke-width="3.8" stroke-linecap="butt"/>
<text transform="translate(1369.5 816.8333333333334)" font-size="29.6" font-weight="bold" text-anchor="end" letter-spacing="-0.6" fill="#000">1.0</text>
<line x1="1375.5" y1="743.3" x2="1391.4" y2="743.3" stroke="#000" stroke-width="3.8" stroke-linecap="butt"/>
<text transform="translate(1369.5 753.9)" font-size="29.6" font-weight="bold" text-anchor="end" letter-spacing="-0.6" fill="#000">1.2</text>
<line x1="1437.7" y1="1120.9" x2="1437.7" y2="1136.8000000000002" stroke="#000" stroke-width="3.8" stroke-linecap="butt"/>
<line x1="1508.4" y1="1120.9" x2="1508.4" y2="1136.8000000000002" stroke="#000" stroke-width="3.8" stroke-linecap="butt"/>
<line x1="1579.1" y1="1120.9" x2="1579.1" y2="1136.8000000000002" stroke="#000" stroke-width="3.8" stroke-linecap="butt"/>
<line x1="1649.9" y1="1120.9" x2="1649.9" y2="1136.8000000000002" stroke="#000" stroke-width="3.8" stroke-linecap="butt"/>
<line x1="1720.6" y1="1120.9" x2="1720.6" y2="1136.8000000000002" stroke="#000" stroke-width="3.8" stroke-linecap="butt"/>
<text transform="translate(1446.5 1152.8) rotate(-45)" font-size="29.0" font-weight="bold" text-anchor="end" letter-spacing="-0.55" fill="#000">Sham</text>
<text transform="translate(1517.2 1152.8) rotate(-45)" font-size="29.0" font-weight="bold" text-anchor="end" letter-spacing="-1.0" fill="#000">HACE</text>
<text transform="translate(1587.8999999999999 1152.8) rotate(-45)" font-size="29.0" font-weight="bold" text-anchor="end" letter-spacing="-0.55" fill="#000">EB-L+HACE</text>
<text transform="translate(1658.7 1152.8) rotate(-45)" font-size="29.0" font-weight="bold" text-anchor="end" letter-spacing="-0.55" fill="#000">EB-H+HACE</text>
<text transform="translate(1729.3999999999999 1152.8) rotate(-45)" font-size="29.0" font-weight="bold" text-anchor="end" letter-spacing="-0.55" fill="#000">Dex-HACE</text>
<text transform="translate(1307.3 931.5) rotate(-90) scale(0.94 1)" font-size="32" font-weight="bold" text-anchor="middle" letter-spacing="0.7" fill="#000">HIF-1α / β-actin</text>
<text transform="translate(1331.3 696.5)" font-size="39.5" font-weight="bold" text-anchor="start" letter-spacing="-3.2" fill="#000">(E)</text>
<text transform="translate(1508.7 771.7)" font-size="24" font-weight="normal" text-anchor="middle" fill="#000">#</text>
<text transform="translate(1652.8 965.6)" font-size="33" font-weight="normal" text-anchor="middle" letter-spacing="2.2" fill="#000">**</text>
<text transform="translate(1722.0 953.6)" font-size="33" font-weight="normal" text-anchor="middle" letter-spacing="2.2" fill="#000">**</text>
</g>
</svg></body></html>
